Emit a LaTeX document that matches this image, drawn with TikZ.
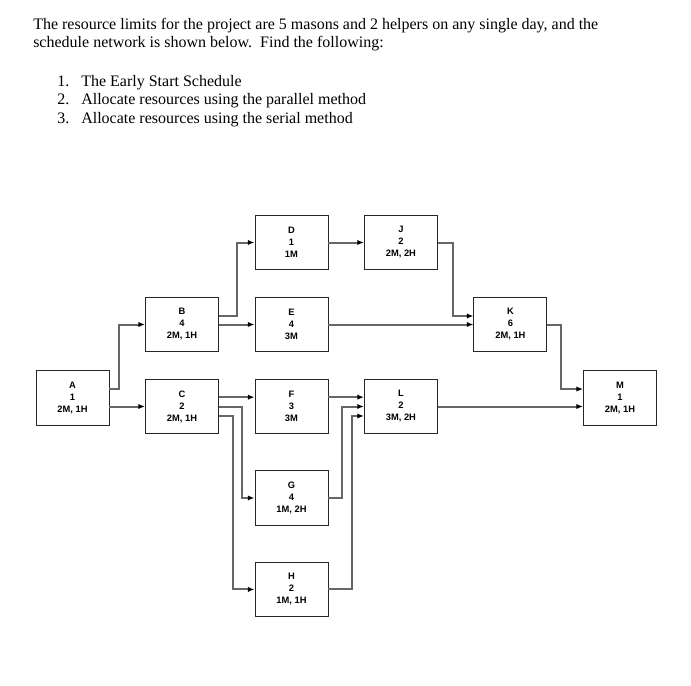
\documentclass[tikz,border=0pt]{standalone}
\usepackage{fontspec}
\setmainfont{Liberation Serif}
\newfontfamily\boxfont{Liberation Sans}
\usetikzlibrary{arrows.meta,positioning}

\begin{document}
\begin{tikzpicture}[x=0.75pt, y=-0.75pt, >={Latex[length=5pt,width=4pt,black]},
    on grid, node distance=61.5pt and 82.1pt]
\tikzset{
  task/.style={draw=black!85, line width=0.7pt, fill=white,
    minimum width=54.75pt, minimum height=40.9pt, inner sep=0pt,
    align=center, font=\boxfont\bfseries\fontsize{7}{9}\selectfont},
  flow/.style={->, draw=black!60, line width=1.5pt},
  txt/.style={anchor=base west, inner sep=0pt, font=\fontsize{12}{14}\selectfont}
}
\useasboundingbox (0,0) rectangle (691,685);

% problem text
\node[txt] (l1) at (33,30) {The resource limits for the project are 5 masons and 2 helpers on any single day, and the};
\node[txt] (l2) at (33,48) {schedule network is shown below.\ \ Find the following:};
\node[txt] (n1) at (57,86) {1.};
\node[txt] (n2) at (57,104) {2.};
\node[txt] (n3) at (57,123) {3.};
\node[txt] (i1) at (81,86) {The Early Start Schedule};
\node[txt] (i2) at (81,104) {Allocate resources using the parallel method};
\node[txt] (i3) at (81,123) {Allocate resources using the serial method};

% network
\node[task] (A) at (72.5,398)  {A\\1\\2M, 1H};
\node[task] (C) at (182,406.5) {C\\2\\2M, 1H};
\node[task] (B) [above=of C]       {B\\4\\2M, 1H};
\node[task] (D) [above right=of B] {D\\1\\1M};
\node[task] (E) [right=of B]       {E\\4\\3M};
\node[task] (F) [right=of C]       {F\\3\\3M};
\node[task] (G) [below=68.6pt of F] {G\\4\\1M, 2H};
\node[task] (H) [below=68.6pt of G] {H\\2\\1M, 1H};
\node[task] (J) [right=of D]       {J\\2\\2M, 2H};
\node[task] (K) [below right=of J] {K\\6\\2M, 1H};
\node[task] (L) [right=of F]       {L\\2\\3M, 2H};
\node[task] (M) at (620,398)   {M\\1\\2M, 1H};

\draw[flow] ([yshift=6.75pt]A.east) -- ++(7.5pt,0) |- (B.west);
\draw[flow] (A.east |- C.west) -- (C.west);
\draw[flow] ([yshift=6.4pt]B.east) -- ++(13.5pt,0) |- (D.west);
\draw[flow] (B) -- (E);
\draw[flow] ([yshift=7pt]C.east) -- ([yshift=7pt]F.west);
\draw[flow] (C.east) -- ++(17.25pt,0) |- (G.west);
\draw[flow] ([yshift=-7.1pt]C.east) -- ++(10.5pt,0) |- (H.west);
\draw[flow] ([yshift=7pt]F.east) -- ([yshift=7pt]L.west);
\draw[flow] (G.east) -- ++(10.5pt,0) |- (L.west);
\draw[flow] (H.east) -- ++(18pt,0) |- ([yshift=-7.1pt]L.west);
\draw[flow] (D) -- (J);
\draw[flow] (J.east) -- ++(11.25pt,0) |- ([yshift=6.4pt]K.west);
\draw[flow] (E) -- (K);
\draw[flow] (K.east) -- ++(10.5pt,0) |- ([yshift=6.75pt]M.west);
\draw[flow] (L.east) -- (M.west |- L.east);
\end{tikzpicture}
\end{document}
